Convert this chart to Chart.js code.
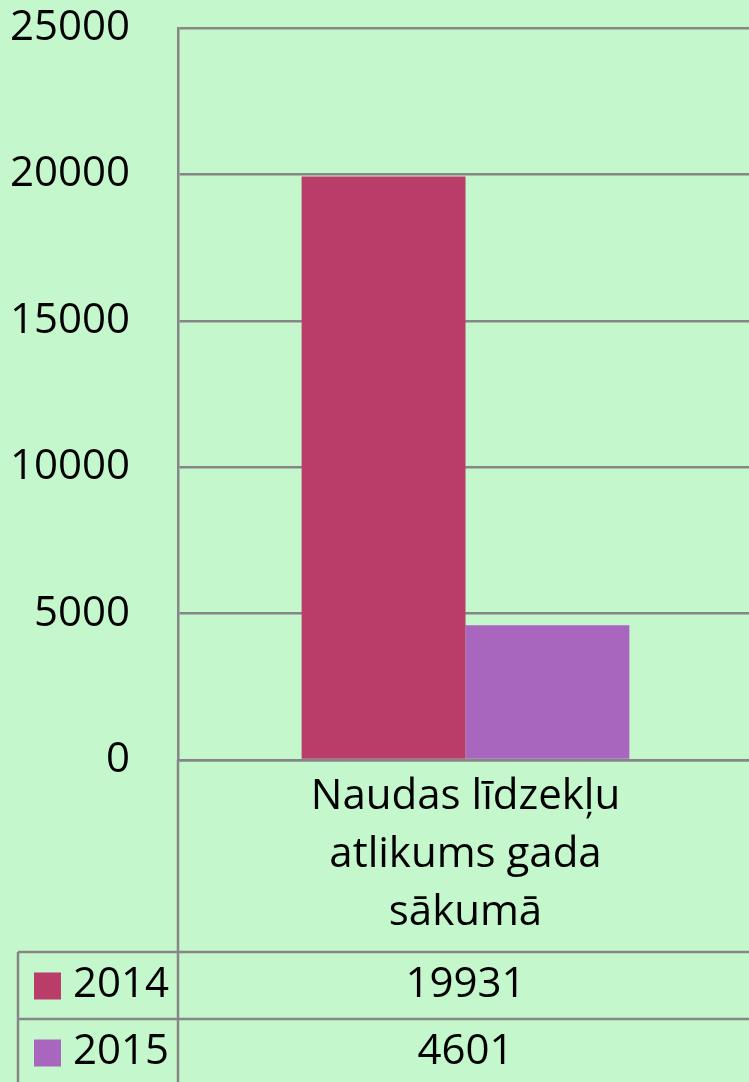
<!DOCTYPE html>
<html>
<head>
<meta charset="utf-8">
<script src="https://cdn.jsdelivr.net/npm/chart.js@4"></script>
<style>
  html, body { margin:0; padding:0; background:#c5f7cd; overflow:hidden; }
  #wrap { width:753px; height:1082px; }
</style>
</head>
<body>
<div id="wrap"><canvas id="chart" width="753" height="1082"></canvas></div>
<script>
const categories = [['Naudas līdzekļu', 'atlikums gada', 'sākumā']];
const seriesNames = ['2014', '2015'];
const values2014 = [19931];
const values2015 = [4601];
const yTicks = [0, 5000, 10000, 15000, 20000, 25000];

const colors = ['#ba3c68', '#a966be'];
const lineCol = '#868686';
const font = 'Open Sans';

// fons + datu tabula zem grafika
const tablePlugin = {
  id: 'tablePlugin',
  beforeDraw(chart){
    const c = chart.ctx;
    c.save();
    c.fillStyle = '#c5f7cd';
    c.fillRect(0, 0, chart.width, chart.height);
    c.restore();
  },
  afterDraw(chart){
    const c = chart.ctx;
    const area = chart.chartArea;
    const x = chart.scales.x;
    const rowTop = [952, 1019];
    const rowH = 67;
    const left = 18;
    c.save();
    c.strokeStyle = lineCol;
    c.lineWidth = 2.5;
    c.beginPath();
    c.moveTo(area.left, area.bottom); c.lineTo(area.left, chart.height);
    c.moveTo(left, rowTop[0]); c.lineTo(left, chart.height);
    rowTop.forEach(t => { c.moveTo(left, t); c.lineTo(chart.width, t); });
    c.stroke();

    const rows = [values2014, values2015];
    c.font = '42px "' + font + '"';
    c.textBaseline = 'middle';
    rows.forEach((vals, i) => {
      const cy = rowTop[i] + rowH / 2;
      c.fillStyle = colors[i];
      c.fillRect(34, cy - 13, 27, 27);
      c.fillStyle = '#000';
      c.textAlign = 'left';
      c.fillText(seriesNames[i], 73, cy);
      c.textAlign = 'center';
      vals.forEach((v, j) => c.fillText(String(v), x.getPixelForValue(j), cy));
    });
    c.restore();
  }
};

new Chart(document.getElementById('chart').getContext('2d'), {
  type: 'bar',
  data: {
    labels: categories,
    datasets: [
      { label: seriesNames[0], data: values2014, backgroundColor: colors[0] },
      { label: seriesNames[1], data: values2015, backgroundColor: colors[1] }
    ]
  },
  options: {
    responsive: false,
    devicePixelRatio: 1,
    animation: false,
    layout: { padding: { top: 28, bottom: 130, left: 0, right: 0 } },
    plugins: { legend: { display: false }, tooltip: { enabled: false } },
    datasets: { bar: { categoryPercentage: 0.57, barPercentage: 1 } },
    scales: {
      y: {
        min: 0, max: 25000,
        afterFit: s => { s.width = 178; s.paddingTop = 0; s.paddingBottom = 0; },
        afterBuildTicks: s => { s.ticks = yTicks.map(v => ({ value: v })); },
        ticks: { color: '#000', padding: 48, font: { family: font, size: 42 }, callback: v => String(v) },
        grid: { color: lineCol, lineWidth: 2.5, drawTicks: false },
        border: { color: lineCol, width: 2.5 }
      },
      x: {
        afterFit: s => { s.height = 192; s.paddingLeft = 0; s.paddingRight = 0; },
        ticks: { color: '#000', padding: 8, maxRotation: 0, font: { family: font, size: 42, lineHeight: 1.38 } },
        grid: { display: false, drawTicks: false },
        border: { color: lineCol, width: 2.5 }
      }
    }
  },
  plugins: [tablePlugin]
});
</script>
</body>
</html>
